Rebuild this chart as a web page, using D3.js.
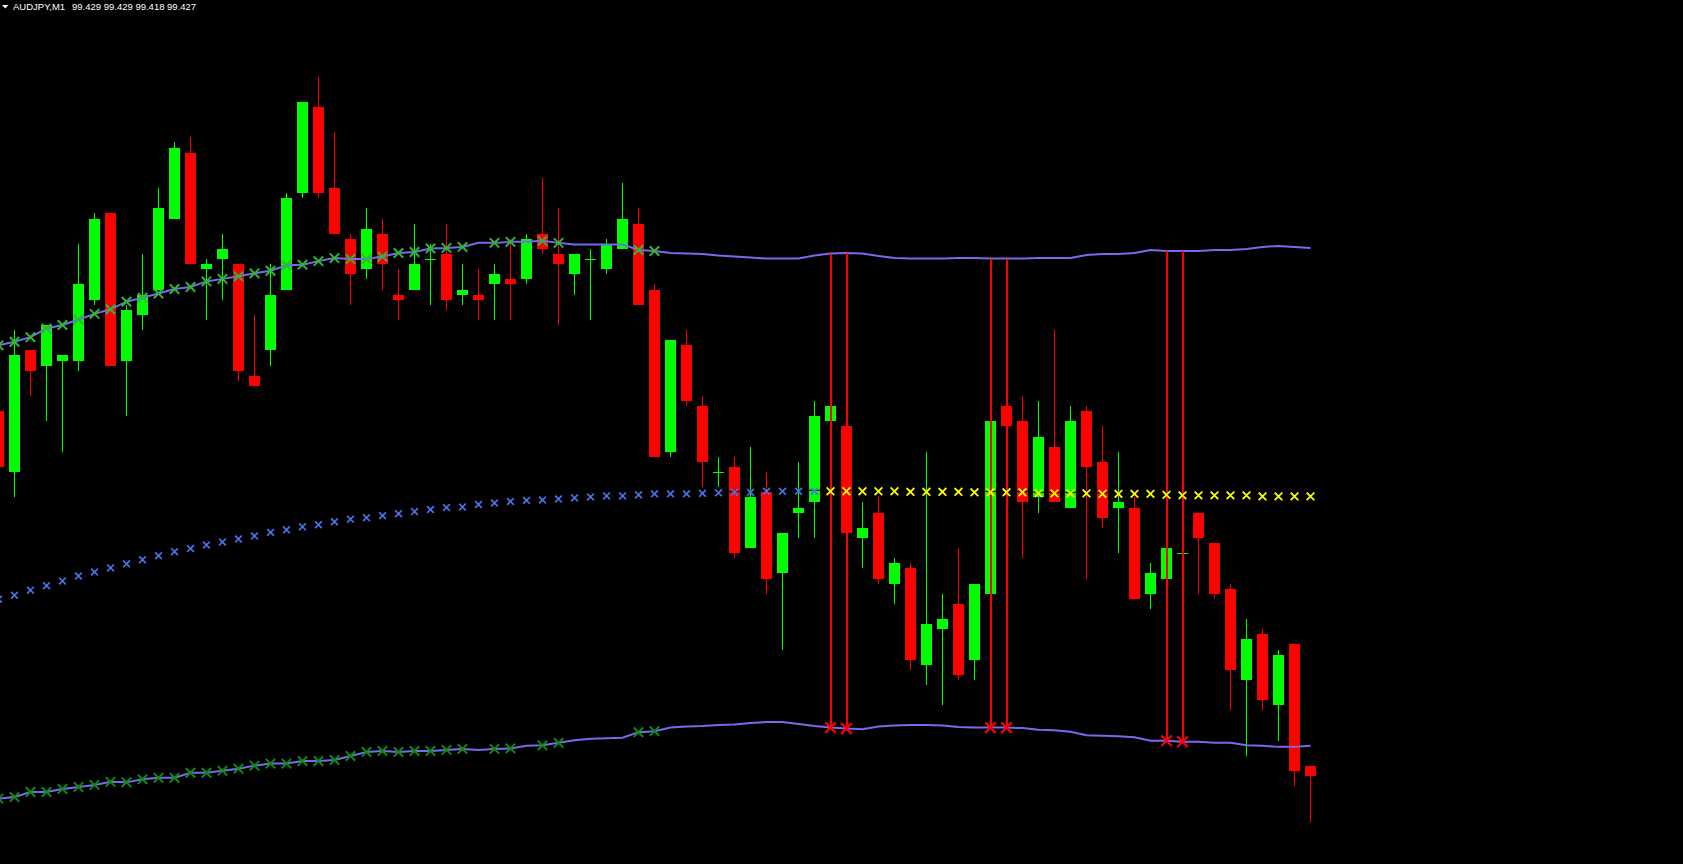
<!DOCTYPE html>
<html><head><meta charset="utf-8">
<script src="https://cdn.jsdelivr.net/npm/d3@7"></script>
<style>html,body{margin:0;padding:0;background:#000;overflow:hidden}</style>
</head><body>
<svg id="chart" width="1683" height="864"></svg>
<script>
// ---- data ----
const symbol = "AUDJPY,M1";
const quote = [99.429, 99.429, 99.418, 99.427]; // O H L C of the last bar
const bars = d3.range(-1, 82); // bar index (first bar partly off-screen)
const open = [99.499,99.487,99.511,99.508,99.509,99.509,99.521,99.538,99.509,99.518,99.523,99.537,99.550,99.527,99.529,99.528,99.506,99.511,99.523,99.542,99.559,99.543,99.533,99.527,99.534,99.522,99.523,99.529,99.530,99.522,99.522,99.524,99.525,99.525,99.534,99.530,99.526,99.529,99.527,99.531,99.536,99.523,99.491,99.512,99.500,99.487,99.488,99.472,99.483,99.467,99.479,99.481,99.497,99.496,99.474,99.479,99.465,99.468,99.449,99.456,99.461,99.450,99.463,99.500,99.497,99.482,99.492,99.480,99.499,99.489,99.480,99.480,99.463,99.466,99.471,99.479,99.473,99.464,99.446,99.455,99.441,99.453,99.429];
const high = [99.499,99.515,99.511,99.516,99.510,99.532,99.538,99.538,99.520,99.530,99.543,99.552,99.553,99.529,99.534,99.528,99.518,99.528,99.542,99.560,99.565,99.554,99.534,99.539,99.537,99.527,99.536,99.532,99.536,99.528,99.527,99.528,99.533,99.534,99.545,99.539,99.530,99.531,99.533,99.544,99.539,99.524,99.513,99.515,99.502,99.490,99.490,99.492,99.487,99.475,99.489,99.501,99.500,99.496,99.481,99.482,99.470,99.469,99.491,99.463,99.472,99.465,99.497,99.500,99.502,99.501,99.515,99.500,99.500,99.496,99.491,99.482,99.469,99.472,99.471,99.479,99.473,99.465,99.458,99.456,99.452,99.453,99.429];
const low = [99.488,99.482,99.502,99.497,99.491,99.507,99.520,99.508,99.498,99.515,99.523,99.537,99.528,99.517,99.521,99.505,99.504,99.508,99.523,99.541,99.541,99.534,99.520,99.525,99.523,99.517,99.523,99.520,99.519,99.520,99.517,99.517,99.517,99.524,99.530,99.516,99.522,99.517,99.526,99.531,99.520,99.490,99.490,99.500,99.484,99.484,99.470,99.472,99.463,99.452,99.474,99.474,99.497,99.475,99.468,99.465,99.461,99.448,99.445,99.441,99.446,99.446,99.463,99.496,99.470,99.479,99.481,99.480,99.466,99.476,99.471,99.462,99.460,99.466,99.471,99.463,99.462,99.440,99.431,99.440,99.434,99.425,99.418];
const close = [99.488,99.510,99.507,99.516,99.510,99.524,99.537,99.508,99.519,99.522,99.539,99.551,99.528,99.528,99.531,99.507,99.504,99.522,99.541,99.560,99.542,99.534,99.526,99.535,99.528,99.521,99.528,99.529,99.521,99.523,99.521,99.526,99.524,99.533,99.531,99.528,99.530,99.529,99.532,99.537,99.520,99.490,99.513,99.501,99.489,99.487,99.471,99.482,99.466,99.475,99.480,99.498,99.500,99.475,99.476,99.466,99.469,99.450,99.457,99.458,99.447,99.465,99.497,99.496,99.481,99.494,99.481,99.497,99.488,99.478,99.481,99.462,99.467,99.472,99.471,99.474,99.463,99.448,99.454,99.442,99.451,99.428,99.427];
const upperBand = [99.5120,99.5127,99.5136,99.5153,99.5160,99.5171,99.5182,99.5191,99.5206,99.5214,99.5222,99.5231,99.5235,99.5246,99.5251,99.5256,99.5262,99.5267,99.5278,99.5279,99.5286,99.5292,99.5290,99.5290,99.5295,99.5302,99.5304,99.5311,99.5312,99.5314,99.5322,99.5322,99.5324,99.5324,99.5326,99.5322,99.5319,99.5319,99.5319,99.5319,99.5308,99.5306,99.5302,99.5301,99.5300,99.5297,99.5295,99.5293,99.5291,99.5291,99.5291,99.5297,99.5301,99.5302,99.5301,99.5296,99.5292,99.5291,99.5291,99.5291,99.5292,99.5292,99.5291,99.5291,99.5291,99.5292,99.5292,99.5292,99.5298,99.5300,99.5300,99.5302,99.5308,99.5306,99.5306,99.5306,99.5308,99.5308,99.5310,99.5314,99.5316,99.5314,99.5312];
const lowerBand = [99.4226,99.4229,99.4239,99.4239,99.4245,99.4249,99.4253,99.4259,99.4258,99.4264,99.4267,99.4267,99.4277,99.4277,99.4281,99.4285,99.4291,99.4295,99.4295,99.4300,99.4300,99.4302,99.4310,99.4318,99.4320,99.4318,99.4320,99.4320,99.4322,99.4324,99.4322,99.4324,99.4325,99.4330,99.4331,99.4336,99.4341,99.4344,99.4345,99.4346,99.4357,99.4359,99.4366,99.4368,99.4369,99.4371,99.4372,99.4375,99.4377,99.4377,99.4373,99.4369,99.4366,99.4364,99.4363,99.4368,99.4370,99.4371,99.4371,99.4370,99.4367,99.4366,99.4366,99.4366,99.4365,99.4362,99.4361,99.4358,99.4351,99.4350,99.4349,99.4347,99.4340,99.4340,99.4338,99.4338,99.4336,99.4336,99.4331,99.4330,99.4328,99.4328,99.4330];
const midLine = [99.4619,99.4627,99.4637,99.4646,99.4655,99.4665,99.4673,99.4681,99.4689,99.4697,99.4705,99.4713,99.4719,99.4726,99.4732,99.4738,99.4744,99.4751,99.4756,99.4762,99.4766,99.4772,99.4777,99.4780,99.4784,99.4788,99.4792,99.4796,99.4800,99.4801,99.4806,99.4809,99.4812,99.4814,99.4815,99.4817,99.4819,99.4821,99.4823,99.4823,99.4825,99.4827,99.4827,99.4827,99.4828,99.4829,99.4830,99.4830,99.4832,99.4832,99.4832,99.4832,99.4832,99.4832,99.4832,99.4832,99.4832,99.4831,99.4831,99.4831,99.4831,99.4830,99.4830,99.4830,99.4830,99.4828,99.4828,99.4828,99.4828,99.4827,99.4827,99.4827,99.4827,99.4825,99.4824,99.4824,99.4824,99.4824,99.4824,99.4822,99.4822,99.4822,99.4822];
const bandMarkBars = d3.range(-1, 29).concat([30, 31, 33, 34, 39, 40]);
const signalBars = [51, 52, 61, 62, 72, 73];
const midColorSwitch = 51; // yellow markers from this bar on
const priceRange = [99.4097, 99.5801];

// ---- drawing ----
const W = 1683, H = 864;
const svg = d3.select("#chart");
svg.append("rect").attr("width", W).attr("height", H).attr("fill", "#000");

const x = d3.scaleLinear().domain([-1, 81]).range([-1.5, 1310.5]);
const y = d3.scaleLinear().domain(priceRange).range([H, 0]);
const idx = k => k + 1;

const candles = bars.map((k, i) => ({k, o: open[i], h: high[i], l: low[i], c: close[i]}));
const bull = d => d.c >= d.o;
const col = d => bull(d) ? "#00ff00" : "#ff0000";

const gC = svg.append("g").attr("shape-rendering", "crispEdges");
gC.selectAll("line.wick").data(candles).join("line")
  .attr("x1", d => x(d.k)).attr("x2", d => x(d.k))
  .attr("y1", d => y(d.h)).attr("y2", d => y(d.l))
  .attr("stroke", col).attr("stroke-width", 1);
gC.selectAll("rect.body").data(candles.filter(d => d.o !== d.c)).join("rect")
  .attr("x", d => x(d.k) - 5.5).attr("width", 11)
  .attr("y", d => y(Math.max(d.o, d.c)))
  .attr("height", d => Math.max(1, y(Math.min(d.o, d.c)) - y(Math.max(d.o, d.c))))
  .attr("fill", col);
gC.selectAll("line.doji").data(candles.filter(d => d.o === d.c)).join("line")
  .attr("x1", d => x(d.k) - 5.5).attr("x2", d => x(d.k) + 5.5)
  .attr("y1", d => y(d.o)).attr("y2", d => y(d.o))
  .attr("stroke", "#00ff00").attr("stroke-width", 1);

// black middle line (only visible across candles)
const midPts = bars.map((k, i) => [x(k), y(midLine[i]) - 1]);
svg.append("path").attr("d", d3.line()(midPts)).attr("fill", "none")
  .attr("stroke", "#000").attr("stroke-width", 1);

// bands
const bandColor = "#7b68ee";
[upperBand, lowerBand].forEach(arr => {
  svg.append("path").attr("d", d3.line()(bars.map((k, i) => [x(k), y(arr[i])])))
    .attr("fill", "none").attr("stroke", bandColor).attr("stroke-width", 2);
});

// signal vertical lines
svg.selectAll("line.sig").data(signalBars).join("line")
  .attr("x1", k => x(k)).attr("x2", k => x(k))
  .attr("y1", k => y(upperBand[idx(k)])).attr("y2", k => y(lowerBand[idx(k)]))
  .attr("stroke", "#ff0000").attr("stroke-width", 2).attr("shape-rendering", "crispEdges");

// cross markers
function cross(g, pts, r, color, sw) {
  g.selectAll(null).data(pts).join("path")
    .attr("d", p => `M${p[0]-r},${p[1]-r}L${p[0]+r},${p[1]+r}M${p[0]+r},${p[1]-r}L${p[0]-r},${p[1]+r}`)
    .attr("stroke", color).attr("stroke-width", sw).attr("fill", "none").attr("stroke-linecap", "square");
}
const gM = svg.append("g");
cross(gM, bandMarkBars.map(k => [x(k), y(upperBand[idx(k)])]), 4, "#30b830", 2);
cross(gM, bandMarkBars.map(k => [x(k), y(lowerBand[idx(k)])]), 4, "#0c8c0c", 2);
cross(gM, bars.filter(k => k < midColorSwitch).map(k => [x(k), y(midLine[idx(k)])]), 2.8, "#4a72e8", 1.7);
cross(gM, bars.filter(k => k >= midColorSwitch).map(k => [x(k), y(midLine[idx(k)])]), 3.2, "#ffff00", 1.8);
cross(gM, signalBars.map(k => [x(k), y(lowerBand[idx(k)])]), 4.5, "#ff0000", 2.2);

// header
svg.append("path").attr("d", "M2,5L8.5,5L5.25,8.5Z").attr("fill", "#fff");
const tg = svg.append("g").attr("font-family", "'Liberation Sans', Arial, sans-serif")
  .attr("font-size", "9.5px").attr("fill", "#fff");
tg.append("text").attr("x", 13).attr("y", 10).text(symbol);
tg.append("text").attr("x", 72).attr("y", 10).text(quote.map(v => v.toFixed(3)).join(" "));
</script>
</body></html>
